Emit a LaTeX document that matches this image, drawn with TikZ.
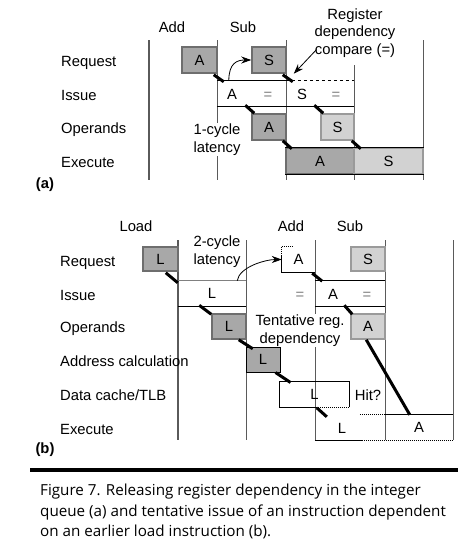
\documentclass[tikz,border=0pt]{standalone}
\usepackage{fontspec}
\setmainfont{Liberation Sans}
\newfontfamily\capfont{Open Sans}
\usetikzlibrary{calc,arrows.meta}
\definecolor{vline}{HTML}{5A5A5A}
\definecolor{darkfill}{HTML}{A8A8A8}
\definecolor{lightfill}{HTML}{D2D2D2}
\definecolor{darkedge}{HTML}{6E6E6E}
\definecolor{lightedge}{HTML}{9A9A9A}
\begin{document}
\begin{tikzpicture}[x=1pt,y=-1pt,
  every node/.style={font=\fontsize{14.8}{17.5}\selectfont, inner sep=0pt},
  ct/.style={text height=10.6pt, text depth=0pt},
  rowlab/.style={ct, anchor=west},
  darkcell/.style={ct, draw=darkedge, fill=darkfill, line width=1.5pt},
  lightcell/.style={ct, draw=lightedge, fill=lightfill, line width=1.5pt},
  plaincell/.style={ct},
  vln/.style={draw=vline, line width=0.9pt},
  vlnthick/.style={draw=vline, line width=1.8pt},
  blk/.style={draw=black, line width=1pt},
  diag/.style={draw=black, line width=3pt},
  arr/.style={-{Stealth[length=10pt,width=7pt]}, line width=0.8pt},
  notetext/.style={align=center, fill=white, inner sep=1pt},
  panel/.style={ct, font=\bfseries\fontsize{14.8}{17}\selectfont},
  captext/.style={anchor=base west, font=\capfont\fontsize{15.2}{20}\selectfont}
]
\useasboundingbox (0,0) rectangle (471,555);
\fill[white] (0,0) rectangle (471,555);

%================ (a) =================
\draw[vlnthick] (149,40) -- (149,180);
\draw[vln] (217,40) -- (217,180);
\draw[vln] (286,40) -- (286,180);
\draw[vln] (354,65) -- (354,180);
\draw[vln] (423,40) -- (423,180);

\node[ct] (aAdd) at (172,27) {Add};
\node[ct] (aSub) at (243,27) {Sub};
\node[align=center] (aReg) at (355,33) {Register\\dependency\\compare (=)};

\node[rowlab] (aLReq) at (61,61) {Request};
\node[rowlab] (aLIss) at (61,95) {Issue};
\node[rowlab] (aLOp) at (61,128) {Operands};
\node[rowlab] (aLEx) at (61,162) {Execute};
\node[panel] (aPanel) at (45,183) {(a)};

\node[darkcell, minimum width=35, minimum height=26] (aReqA) at (199.5,60) {A};
\node[darkcell, minimum width=34, minimum height=26] (aReqS) at (269,60) {S};

\node[plaincell, minimum width=137, minimum height=25] (aIss) at (285.5,93.5) {};
\draw[blk] (aIss.north west) -- ($(aIss.north west)+(69,0)$);
\draw[blk, dashed] ($(aIss.north west)+(69,0)$) -- (aIss.north east);
\draw[blk] (aIss.south west) -- (aIss.south east);
\node[ct] (aIssA) at (232,94) {A};
\node[ct, text=gray] (aIssE1) at (268,94) {=};
\node[ct] (aIssS) at (302,94) {S};
\node[ct, text=gray] (aIssE2) at (336,94) {=};

\node[darkcell, minimum width=34, minimum height=26] (aOpA) at (269,127) {A};
\node[lightcell, minimum width=33, minimum height=26] (aOpS) at (337.5,127) {S};

\node[darkcell, minimum width=68, minimum height=26] (aExA) at (320,161) {A};
\node[lightcell, minimum width=69, minimum height=26] (aExS) at (388.5,161) {S};
\draw[blk] (aExA.north west) -- (aExS.north east);
\draw[blk] (aExA.south west) -- (aExS.south east);

\draw[diag] ($(aReqA.south east)+(-4,1)$) -- ($(aReqA.south east)+(6,8)$);
\draw[diag] ($(aReqS.south east)+(-4,1)$) -- ($(aReqS.south east)+(6,8)$);
\draw[diag] ($(aOpA.north west)+(-6,-8)$) -- ($(aOpA.north west)+(3,0)$);
\draw[diag] ($(aOpS.north west)+(-6,-8)$) -- ($(aOpS.north west)+(3,0)$);
\draw[diag] ($(aOpA.south east)+(-4,0)$) -- ($(aOpA.south east)+(5,8)$);
\draw[diag] ($(aOpS.south east)+(-3,0)$) -- ($(aOpS.south east)+(6,8)$);

\draw[arr] ($(aIss.north west)+(12,0)$) .. controls +(0,-18) and +(-14,0) .. (aReqS.west);
\draw[arr] ($(aReg.south west)+(2,-8)$) -- ($(aReqS.south east)+(7,0)$);

\node[notetext] (aLat) at (217,139.5) {1-cycle\\latency};

%================ (b) =================
\draw[vlnthick] (178,240) -- (178,440);
\draw[vln] (246,240) -- (246,440);
\draw[vln] (315,240) -- (315,440);
\draw[vln] (385,240) -- (385,440);
\draw[vln] (453,240) -- (453,440);

\node[ct] (bLoad) at (136,226) {Load};
\node[ct] (bAdd) at (291,226) {Add};
\node[ct] (bSub) at (350,226) {Sub};

\node[rowlab] (bLReq) at (60,261) {Request};
\node[rowlab] (bLIss) at (60,295) {Issue};
\node[rowlab] (bLOp) at (60,327) {Operands};
\node[rowlab] (bLAdr) at (60,361) {Address calculation};
\node[rowlab] (bLDc) at (60,395) {Data cache/TLB};
\node[rowlab] (bLEx) at (60,429) {Execute};
\node[panel] (bPanel) at (45,448) {(b)};

\node[darkcell, minimum width=35, minimum height=24] (bReqL) at (160.5,259) {L};

\node[plaincell, minimum width=68, minimum height=25] (bIssL) at (212,293.5) {L};
\draw[draw=gray, line width=1pt] (bIssL.north west) -- (bIssL.north east);
\draw[blk] (bIssL.south west) -- (bIssL.south east);

\node[plaincell, minimum width=33, minimum height=25] (bReqA) at (298.5,259.5) {A};
\draw[blk, densely dotted] (bReqA.north west) -- ($(bReqA.north west)+(12,0)$);
\draw[blk, densely dotted] (bReqA.north west) -- ($(bReqA.north west)+(0,8)$);
\draw[blk] ($(bReqA.north west)+(0,8)$) -- (bReqA.south west) -- (bReqA.south east);

\node[lightcell, minimum width=34, minimum height=24] (bReqS) at (368,259) {S};

\node[plaincell, minimum width=70, minimum height=25] (bIssA) at (350,293.5) {};
\draw[blk] (bIssA.north west) -- (bIssA.north east);
\draw[blk] (bIssA.south west) -- (bIssA.south east);
\node[ct, text=gray] (bIssE1) at (300,294) {=};
\node[ct] (bIssAA) at (333,294) {A};
\node[ct, text=gray] (bIssE2) at (367,294) {=};

\node[darkcell, minimum width=34, minimum height=25] (bOpL) at (229,326.5) {L};
\node[lightcell, minimum width=34, minimum height=25] (bOpA) at (368,326.5) {A};
\node[darkcell, draw=black, line width=1pt, minimum width=34, minimum height=25] (bAdrL) at (263,359.5) {L};

\node[plaincell, minimum width=69, minimum height=25] (bDcL) at (314.5,394.5) {L};
\draw[blk] (bDcL.south east) -- (bDcL.north east) -- (bDcL.north west) -- (bDcL.south west) -- ($(bDcL.south west)+(36,0)$);
\draw[blk, densely dotted] ($(bDcL.south west)+(36,0)$) -- (bDcL.south east);
\node[ct] (bHit) at (368,395) {Hit?};

\node[plaincell, minimum width=70, minimum height=25] (bExL) at (350,427.5) {};
\node[ct] (bExLL) at (342,428) {L};
\node[plaincell, minimum width=68, minimum height=25] (bExA) at (419,427.5) {A};
\draw[blk, densely dotted] ($(bExL.north west)+(45,0)$) -- (bExL.north east);
\draw[blk] (bExA.north west) -- (bExA.north east);
\draw[blk] (bExL.south west) -- ($(bExL.south west)+(47,0)$);
\draw[blk, densely dotted] ($(bExL.south west)+(47,0)$) -- (bExA.south east);

\draw[diag] ($(bReqL.south east)+(-13,1)$) -- ($(bReqL.south east)+(-1,11)$);
\draw[diag] ($(bOpL.north west)+(-12,-8)$) -- ($(bOpL.north west)+(0,1)$);
\draw[diag] ($(bOpL.south east)+(-8,0)$) -- ($(bOpL.south east)+(6,9)$);
\draw[diag] ($(bAdrL.south east)+(-5,0)$) -- ($(bAdrL.south east)+(10,10)$);
\draw[diag] ($(bExL.north west)+(2,-7)$) -- ($(bExL.north west)+(12,2)$);
\draw[diag] ($(bReqA.south east)+(-3,1)$) -- ($(bReqA.south east)+(7,9)$);
\draw[diag] ($(bOpA.north west)+(-6,-8)$) -- ($(bOpA.north west)+(2,1)$);
\draw[diag] ($(bOpA.south west)+(16,0)$) -- ($(bExA.north west)+(25,0)$);

\draw[arr] ($(bIssL.north east)+(-9,0)$) .. controls +(2,-14) and +(-16,0) .. (bReqA.west);

\node[notetext] (bLat) at (217,251.5) {2-cycle\\latency};
\node[notetext] (bTent) at (300,330.5) {Tentative reg.\\dependency};

%================ caption =================
\draw[line width=4pt] (30,470) -- (458,470);
\node[captext] (cap1) at (40,495.5) {Figure 7. Releasing register dependency in the integer};
\node[captext] (cap2) at (40,516) {queue (a) and tentative issue of an instruction dependent};
\node[captext] (cap3) at (40,536) {on an earlier load instruction (b).};
\end{tikzpicture}
\end{document}
